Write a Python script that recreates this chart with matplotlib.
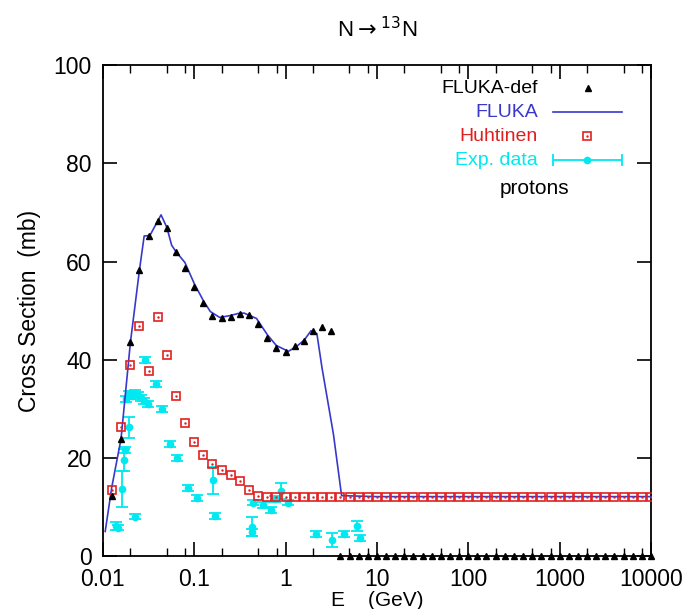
import matplotlib
matplotlib.use('Agg')
import matplotlib.pyplot as plt
from matplotlib.ticker import LogLocator, FixedLocator, NullFormatter

plt.rcParams['font.family'] = ['Liberation Sans', 'DejaVu Sans']

# energy grid of the FLUKA-def / Huhtinen points (GeV)
energies = [0.0126, 0.0158, 0.0200, 0.0251, 0.0316, 0.0398, 0.0501, 0.0631, 0.0794, 0.1,
            0.126, 0.158, 0.200, 0.251, 0.316, 0.398, 0.501, 0.631, 0.794, 1.0,
            1.26, 1.58, 2.00, 2.51, 3.16, 3.98, 5.01, 6.31, 7.94, 10.0,
            12.6, 15.8, 20.0, 25.1, 31.6, 39.8, 50.1, 63.1, 79.4, 100.0,
            126, 158, 200, 251, 316, 398, 501, 631, 794, 1000,
            1260, 1580, 2000, 2510, 3160, 3980, 5010, 6310, 7940, 10000]

fluka_def = [12.2, 23.8, 43.5, 58.2, 65.2, 68.2, 66.8, 62.0, 58.7, 54.8,
             51.6, 48.8, 48.5, 48.7, 49.3, 49.0, 47.3, 44.5, 42.3, 41.6,
             42.7, 43.9, 45.8, 46.6, 45.8, 0, 0, 0, 0, 0,
             0, 0, 0, 0, 0, 0, 0, 0, 0, 0,
             0, 0, 0, 0, 0, 0, 0, 0, 0, 0,
             0, 0, 0, 0, 0, 0, 0, 0, 0, 0]

huhtinen = [13.5, 26.3, 38.9, 46.9, 37.6, 48.6, 41.0, 32.5, 27.0, 23.3,
            20.6, 18.7, 17.6, 16.5, 15.2, 13.5, 12.2, 12.0, 12.0, 12.0,
            12.0, 12.0, 12.0, 12.0, 12.0, 12.0, 12.0, 12.0, 12.0, 12.0,
            12.0, 12.0, 12.0, 12.0, 12.0, 12.0, 12.0, 12.0, 12.0, 12.0,
            12.0, 12.0, 12.0, 12.0, 12.0, 12.0, 12.0, 12.0, 12.0, 12.0,
            12.0, 12.0, 12.0, 12.0, 12.0, 12.0, 12.0, 12.0, 12.0, 12.0]

# FLUKA curve
fluka_e = [0.0106, 0.0125, 0.0158, 0.0200, 0.0251, 0.0283, 0.0327, 0.0433, 0.0500, 0.0566,
           0.0631, 0.079, 0.100, 0.126, 0.150, 0.190, 0.250, 0.300, 0.350, 0.480,
           0.630, 0.790, 1.07, 1.30, 1.60, 1.90, 2.20, 2.50, 3.34, 4.10,
           10.0, 100.0, 10000.0]
fluka_y = [5.0, 14.0, 23.9, 43.5, 58.2, 65.2, 65.3, 69.5, 67.0, 63.3,
           62.0, 59.8, 55.5, 52.0, 49.8, 48.6, 49.0, 49.4, 49.5, 48.4,
           45.1, 42.9, 41.7, 42.6, 44.0, 45.9, 45.3, 38.4, 24.8, 12.3,
           12.1, 12.1, 12.1]

# experimental data
exp_e = [0.0140, 0.0146, 0.0163, 0.0172, 0.0176, 0.0194, 0.0224,
         0.0180, 0.0195, 0.0210, 0.0225, 0.0240, 0.0260, 0.0280, 0.0310,
         0.029, 0.038, 0.044, 0.054, 0.065, 0.086, 0.108, 0.159, 0.169,
         0.43, 0.43, 0.44, 0.56, 0.69, 0.77, 0.88, 1.07,
         2.16, 3.2, 4.4, 6.0, 6.5]
exp_y = [6.2, 5.8, 13.6, 19.6, 21.6, 26.2, 8.0,
         32.0, 33.0, 32.6, 33.2, 32.8, 32.2, 31.6, 31.0,
         40.0, 35.0, 29.9, 22.9, 19.9, 13.9, 11.9, 15.4, 8.2,
         6.0, 4.8, 10.9, 10.4, 9.3, 11.6, 13.3, 10.9,
         4.4, 3.2, 4.4, 6.1, 3.7]
exp_err = [0.8, 0.6, 3.7, 2.2, 0.7, 2.2, 0.5,
           0.6, 0.6, 0.6, 0.6, 0.6, 0.6, 0.6, 0.6,
           0.6, 0.6, 0.6, 0.6, 0.6, 0.6, 0.6, 2.7, 0.6,
           2.0, 0.8, 0.6, 0.6, 0.6, 0.6, 1.6, 0.6,
           0.6, 1.4, 0.6, 1.0, 0.6]

blue = '#3838cc'
red = '#e02020'
cyan = '#00e8f0'

fig = plt.figure(figsize=(6.86, 6.09), dpi=100)
ax = fig.add_axes([0.150, 0.087, 0.799, 0.806])

ax.errorbar(exp_e, exp_y, yerr=exp_err, fmt='o', color=cyan, ms=4.5,
            elinewidth=1.3, capsize=4, capthick=1.3, zorder=2)
ax.plot(fluka_e, fluka_y, color=blue, lw=1.2, zorder=3)
ax.plot(energies, huhtinen, 's', ms=5.5, mfc='none', mec=red, mew=1.2, zorder=4)
ax.plot(energies, huhtinen, '.', ms=1.5, color=red, zorder=4)
ax.plot(energies, fluka_def, '^', ms=4.5, color='black', clip_on=False, zorder=5)

ax.set_xscale('log')
ax.set_xlim(0.01, 10000)
ax.set_ylim(0, 100)
ax.xaxis.set_minor_locator(LogLocator(base=10, subs=(2, 5, 8), numticks=20))
ax.xaxis.set_minor_formatter(NullFormatter())
ax.set_xticks([0.01, 0.1, 1, 10, 100, 1000, 10000])
ax.set_xticklabels(['0.01', '0.1', '1', '10', '100', '1000', '10000'])
ax.yaxis.set_major_locator(FixedLocator([0, 20, 40, 60, 80, 100]))
ax.tick_params(which='both', direction='in', top=True, right=True, labelsize=16.5)
ax.tick_params(axis='x', pad=8.5)
ax.tick_params(axis='y', pad=8)
ax.tick_params(which='major', length=10, width=1.2)
ax.tick_params(which='minor', length=6, width=1.0)
for s in ax.spines.values():
    s.set_linewidth(1.3)

ax.set_xlabel('E    (GeV)', fontsize=15, labelpad=0)
ax.set_ylabel('Cross Section  (mb)', fontsize=16.5, labelpad=9)
ax.set_title(r'N$\rightarrow$$^{13}$N', fontsize=16, pad=20)

# legend drawn by hand, text right aligned
lx = 0.794
ax.text(lx, 0.953, 'FLUKA-def', color='black', fontsize=14, ha='right', va='center', transform=ax.transAxes)
ax.plot([0.885], [0.953], '^', ms=4.5, color='black', transform=ax.transAxes)
ax.text(lx, 0.904, 'FLUKA', color=blue, fontsize=14, ha='right', va='center', transform=ax.transAxes)
ax.plot([0.821, 0.947], [0.904, 0.904], color=blue, lw=1.2, transform=ax.transAxes)
ax.text(lx, 0.855, 'Huhtinen', color=red, fontsize=14, ha='right', va='center', transform=ax.transAxes)
ax.plot([0.883], [0.855], 's', ms=5.5, mfc='none', mec=red, mew=1.2, transform=ax.transAxes)
ax.plot([0.883], [0.855], '.', ms=1.5, color=red, transform=ax.transAxes)
ax.text(lx, 0.806, 'Exp. data', color=cyan, fontsize=14, ha='right', va='center', transform=ax.transAxes)
ax.errorbar([0.884], [0.806], xerr=[[0.063], [0.063]], fmt='o', ms=4.5, color=cyan,
            elinewidth=1.3, capsize=4, capthick=1.3, transform=ax.transAxes)
ax.text(0.788, 0.749, 'protons', color='black', fontsize=15, ha='center', va='center', transform=ax.transAxes)

fig.savefig('out.png', dpi=100)
